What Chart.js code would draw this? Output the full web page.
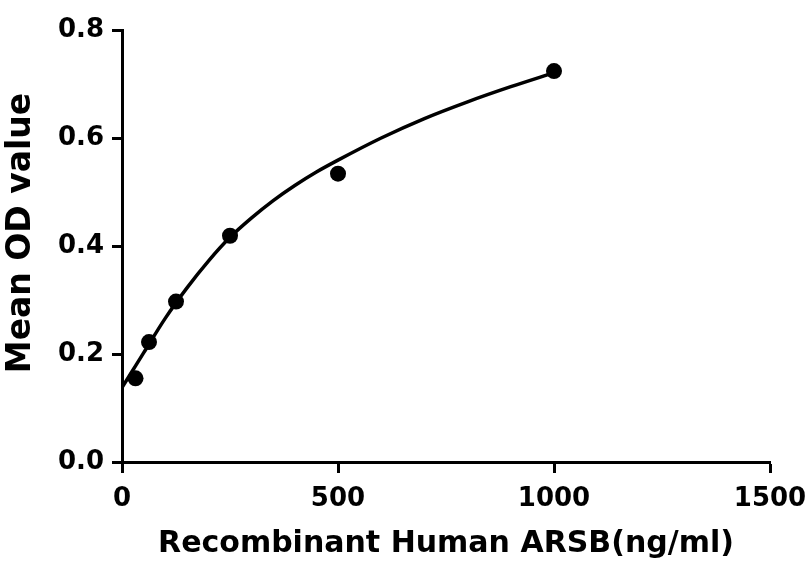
<!DOCTYPE html>
<html>
<head>
<meta charset="utf-8">
<script src="https://cdn.jsdelivr.net/npm/chart.js@4"></script>
<style>
  html, body { margin: 0; padding: 0; background: #ffffff; }
  #wrap { width: 809px; height: 564px; }
</style>
</head>
<body>
<div id="wrap"><canvas id="c" width="809" height="564"></canvas></div>
<script>
// Measured standards (x = concentration ng/ml, y = mean OD)
const pointX = [31.25, 62.5, 125, 250, 500, 1000];
const pointY = [0.155, 0.222, 0.297, 0.419, 0.534, 0.724];

// Fitted curve
const curveX = [0, 25, 50, 100, 150, 200, 250, 300, 350, 400, 450, 500, 600, 700, 800, 900, 1000];
const curveY = [0.138, 0.170, 0.202, 0.266, 0.322, 0.372, 0.416, 0.452, 0.484, 0.512, 0.537, 0.559, 0.600, 0.636, 0.667, 0.695, 0.721];

const xTicks = [0, 500, 1000, 1500];
const yTicks = [0.0, 0.2, 0.4, 0.6, 0.8];

const xTitle = 'Recombinant Human ARSB(ng/ml)';
const yTitle = 'Mean OD value';

const pts = pointX.map((x, i) => ({ x: x, y: pointY[i] }));
const curve = curveX.map((x, i) => ({ x: x, y: curveY[i] }));

Chart.defaults.color = '#000000';
Chart.defaults.font.family = '"DejaVu Sans", sans-serif';

// Draws the rotated y-axis title slightly above the chart-area centre, as in the reference
const yTitlePlugin = {
  id: 'yTitlePlugin',
  afterDraw(chart) {
    const ctx = chart.ctx;
    ctx.save();
    ctx.fillStyle = '#000000';
    ctx.font = 'bold 33px "DejaVu Sans", sans-serif';
    ctx.textAlign = 'center';
    ctx.textBaseline = 'middle';
    ctx.translate(21, 233);
    ctx.rotate(-Math.PI / 2);
    ctx.fillText(yTitle, 0, 0);
    ctx.restore();
  }
};

new Chart(document.getElementById('c'), {
  type: 'scatter',
  data: {
    datasets: [
      {
        data: curve,
        showLine: true,
        borderColor: '#000000',
        borderWidth: 3.5,
        pointRadius: 0,
        cubicInterpolationMode: 'monotone',
        fill: false
      },
      {
        data: pts,
        showLine: false,
        pointRadius: 8,
        pointBackgroundColor: '#000000',
        pointBorderColor: '#000000',
        pointBorderWidth: 0
      }
    ]
  },
  plugins: [yTitlePlugin],
  options: {
    responsive: false,
    animation: false,
    devicePixelRatio: 1,
    layout: { padding: { top: 30, right: 39, left: 0, bottom: 0 } },
    plugins: { legend: { display: false }, tooltip: { enabled: false } },
    scales: {
      x: {
        type: 'linear',
        min: xTicks[0],
        max: xTicks[xTicks.length - 1],
        afterBuildTicks: (s) => { s.ticks = xTicks.map(v => ({ value: v })); },
        afterFit: (s) => { s.height = 102; s.paddingRight = 0; s.paddingLeft = 0; },
        grid: { drawOnChartArea: false, drawTicks: true, tickLength: 11, tickWidth: 3, tickColor: '#000000' },
        border: { display: true, color: '#000000', width: 3 },
        ticks: {
          padding: 11,
          maxRotation: 0,
          color: '#000000',
          font: { size: 26, weight: 'bold' },
          callback: (v) => String(v)
        },
        title: {
          display: true,
          text: xTitle,
          color: '#000000',
          font: { size: 30, weight: 'bold' },
          padding: { top: 0, bottom: 2 }
        }
      },
      y: {
        type: 'linear',
        min: yTicks[0],
        max: yTicks[yTicks.length - 1],
        afterBuildTicks: (s) => { s.ticks = yTicks.map(v => ({ value: v })); },
        afterFit: (s) => { s.width = 122; s.paddingTop = 0; s.paddingBottom = 0; },
        grid: { drawOnChartArea: false, drawTicks: true, tickLength: 10, tickWidth: 3, tickColor: '#000000' },
        border: { display: true, color: '#000000', width: 3 },
        ticks: {
          padding: 8,
          color: '#000000',
          font: { size: 26, weight: 'bold' },
          callback: (v) => Number(v).toFixed(1)
        },
        title: { display: false }
      }
    }
  }
});
</script>
</body>
</html>
